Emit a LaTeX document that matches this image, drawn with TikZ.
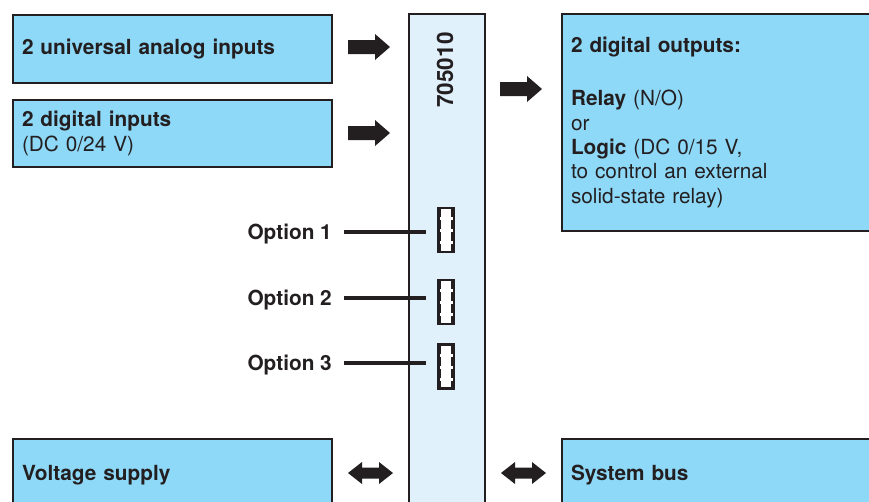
\documentclass[tikz,border=0pt]{standalone}
\usepackage{fontspec}
\setmainfont{TeX Gyre Heros}
\definecolor{boxblue}{HTML}{8ED8F8}
\definecolor{barblue}{HTML}{E0F1FC}
\definecolor{ink}{HTML}{231F20}
\begin{document}
\begin{tikzpicture}[x=1pt,y=-1pt,
  font=\fontsize{20.8}{24.4}\selectfont,
  box/.style={draw=ink, line width=2pt, fill=boxblue, anchor=north west, align=left,
    inner xsep=9pt, inner ysep=0pt, text=ink},
  optlabel/.style={font=\bfseries\fontsize{20.8}{24.4}\selectfont, text=ink, inner sep=0pt,
    text height=14.8pt, text depth=0pt, anchor=east},
  icon/.style={draw=ink, fill=white, line width=2.5pt, minimum width=15.5pt,
    minimum height=44pt, inner sep=0pt},
  teeth/.style={draw=ink, line width=2pt, dash pattern=on 9pt off 3pt},
  optline/.style={draw=ink, line width=4.6pt},
  rarr/.pic={\fill[ink] (0,-7) -- (27,-7) -- (27,-13) -- (42,0) -- (27,13) -- (27,7) -- (0,7) -- cycle;},
  darr/.pic={\fill[ink] (0,0) -- (14,-11) -- (14,-5.5) -- (31,-5.5) -- (31,-11) -- (45,0) -- (31,11) -- (31,5.5) -- (14,5.5) -- (14,11) -- cycle;}
]
\useasboundingbox (0,0) rectangle (869,501);

% input boxes
\node[box, text width=301pt, minimum height=68pt] (ain) at (12,14)
  {\textbf{2 universal analog inputs}};
\node[box, text width=301pt, minimum height=67pt] (din) at (12,99)
  {\textbf{2 digital inputs}\\(DC 0/24 V)};
% output box
\node[box, text width=302pt, minimum height=217pt] (dout) at (561,13)
  {\textbf{2 digital outputs:}\\[28.6pt]\textbf{Relay} (N/O)\\or\\\textbf{Logic} (DC 0/15 V,\\to control an external\\solid-state relay)};
% bottom boxes
\node[box, text width=301pt, minimum height=72pt] (vs) at (12,438)
  {\textbf{Voltage supply}};
\node[box, text width=302pt, minimum height=72pt] (bus) at (561,438)
  {\textbf{System bus}};

% central bar
\node[draw=ink, fill=barblue, line width=2pt, anchor=north west, minimum width=76pt,
  minimum height=520pt, inner sep=0pt] (bar) at (408,13) {};
\node[rotate=90, font=\bfseries\fontsize{22.5}{27}\selectfont, text=ink] (code) at (445,70) {705010};

% arrows
\pic at (348,47) {rarr};
\pic at (348,133) {rarr};
\pic at (500,89) {rarr};
\pic at (348,473) {darr};
\pic at (501,473) {darr};

% option connectors
\node[icon] (icon1) at (446,230) {};
\node[icon] (icon2) at (446,302) {};
\node[icon] (icon3) at (446,366.5) {};
\foreach \i in {1,2,3}{
  \draw[teeth] ([xshift=3pt,yshift=-1.5pt]icon\i.north west) -- ([xshift=3pt,yshift=1.5pt]icon\i.south west);
  \draw[teeth] ([xshift=-3pt,yshift=-1.5pt]icon\i.north east) -- ([xshift=-3pt,yshift=1.5pt]icon\i.south east);
}
\node[optlabel] (opt1) at (332,232) {Option 1};
\node[optlabel] (opt2) at (332,298) {Option 2};
\node[optlabel] (opt3) at (332,363) {Option 3};
\foreach \i in {1,2,3}{
  \coordinate (e\i) at ([xshift=-11pt]icon\i.west);
  \draw[optline] ([xshift=12pt]opt\i.east) -- (e\i |- opt\i.east);
}
\end{tikzpicture}
\end{document}
